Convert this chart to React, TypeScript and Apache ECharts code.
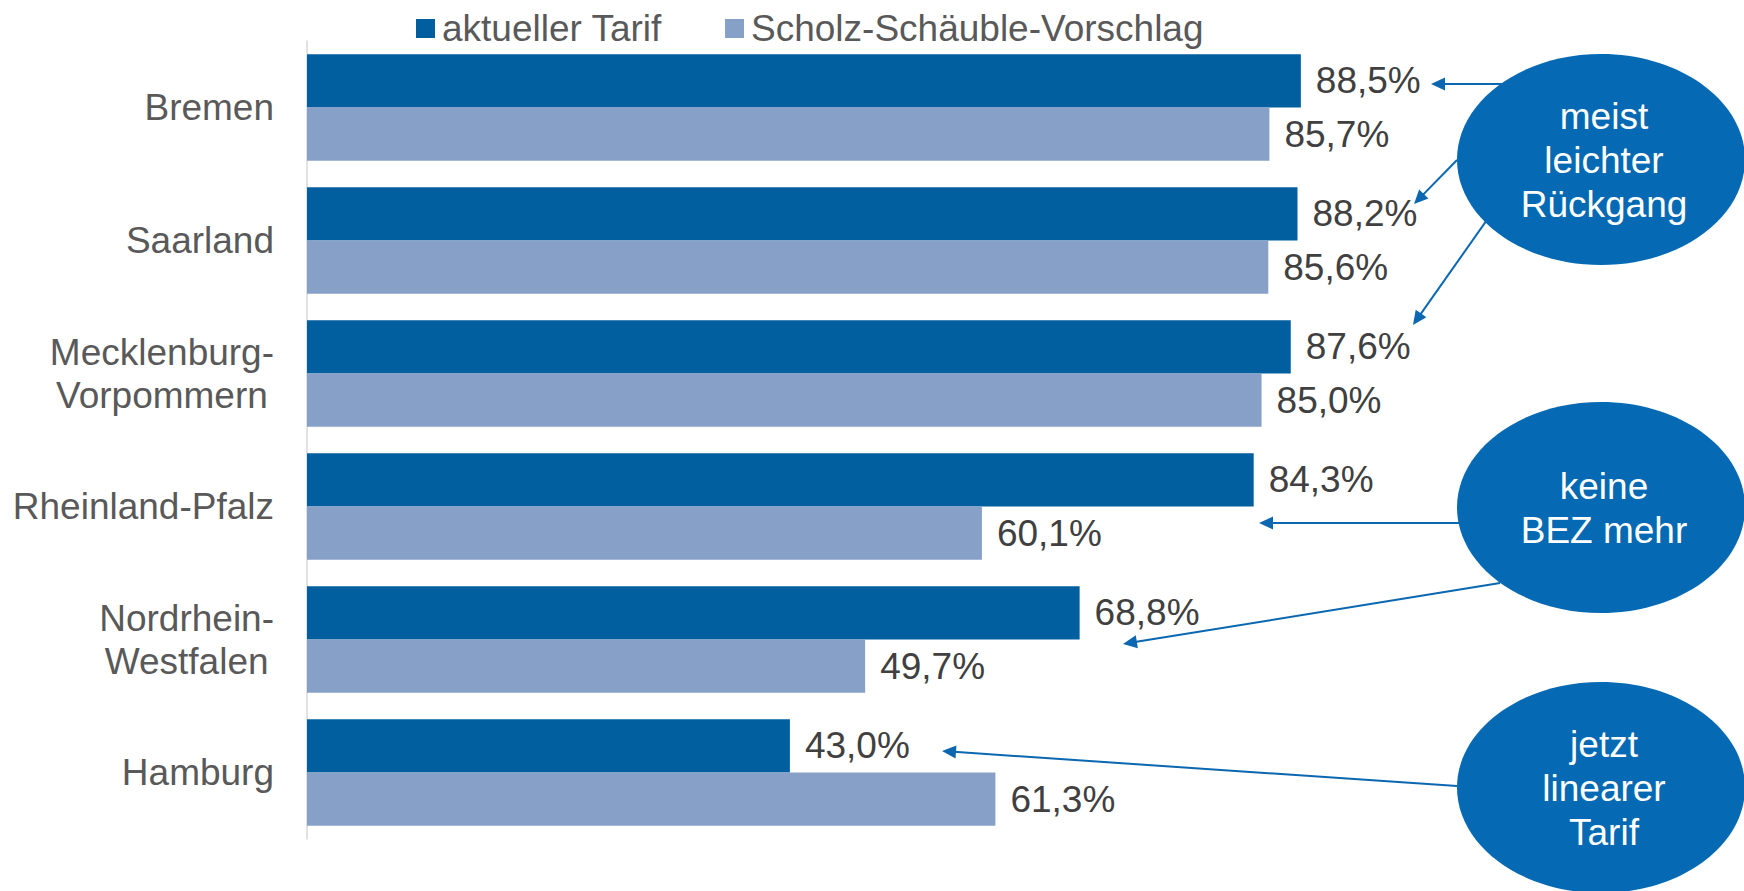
import React, { useEffect, useRef } from "react";
import * as echarts from "echarts";

const categories = [
  "Bremen",
  "Saarland",
  "Mecklenburg-\nVorpommern",
  "Rheinland-Pfalz",
  "Nordrhein-\nWestfalen",
  "Hamburg",
];
const seriesNames = ["aktueller Tarif", "Scholz-Schäuble-Vorschlag"];
const aktuellerTarif = [88.5, 88.2, 87.6, 84.3, 68.8, 43.0];
const scholzSchaeuble = [85.7, 85.6, 85.0, 60.1, 49.7, 61.3];
const noteTexts = [
  "meist\nleichter\nRückgang",
  "keine\nBEZ mehr",
  "jetzt\nlinearer\nTarif",
];

const FONT = "'Liberation Sans', Arial, sans-serif";
const DARK = "#015E9F";
const LIGHT = "#87A0C8";
const NOTE = "#056AB3";
const ARROW = "#0A67B0";

function arrow(x1: number, y1: number, x2: number, y2: number) {
  const dx = x2 - x1;
  const dy = y2 - y1;
  const len = Math.sqrt(dx * dx + dy * dy);
  const ux = dx / len;
  const uy = dy / len;
  const head = 14;
  const half = 6.5;
  const bx = x2 - ux * head;
  const by = y2 - uy * head;
  const px = -uy;
  const py = ux;
  return [
    {
      type: "line",
      shape: { x1, y1, x2: bx + ux * 2, y2: by + uy * 2 },
      style: { stroke: ARROW, lineWidth: 2 },
      silent: true,
    },
    {
      type: "polygon",
      shape: {
        points: [
          [x2, y2],
          [bx + px * half, by + py * half],
          [bx - px * half, by - py * half],
        ],
      },
      style: { fill: ARROW },
      silent: true,
    },
  ];
}

function note(cx: number, cy: number, text: string) {
  return [
    {
      type: "ellipse",
      shape: { cx, cy, rx: 144, ry: 105.5 },
      style: { fill: NOTE },
      silent: true,
    },
    {
      type: "text",
      x: cx + 3,
      y: cy + 1,
      style: {
        text,
        fill: "#ffffff",
        fontSize: 37,
        fontFamily: FONT,
        lineHeight: 44,
        align: "center",
        verticalAlign: "middle",
      },
      silent: true,
    },
  ];
}

export default function App() {
  const ref = useRef<HTMLDivElement>(null);

  useEffect(() => {
    if (!ref.current) return;
    const chart = echarts.init(ref.current, null, { renderer: "svg" });
    const fmt = (p: any) =>
      Number(p.value).toFixed(1).replace(".", ",") + "%";

    const graphics: any[] = [
      ...arrow(1502, 84, 1431, 84),
      ...arrow(1457, 160, 1414, 204),
      ...arrow(1527, 163, 1413, 325),
      ...arrow(1459, 523, 1259, 523),
      ...arrow(1500, 583, 1123, 644),
      ...arrow(1457, 786, 942, 751),
      ...note(1601, 159.5, noteTexts[0]),
      ...note(1601, 507.5, noteTexts[1]),
      ...note(1601, 787.5, noteTexts[2]),
    ];

    chart.setOption({
      animation: false,
      backgroundColor: "#ffffff",
      textStyle: { fontFamily: FONT },
      legend: {
        data: seriesNames,
        left: 411,
        top: 5,
        icon: "rect",
        itemWidth: 19,
        itemHeight: 19,
        itemGap: 63,
        textStyle: {
          fontSize: 37,
          color: "#595959",
          fontFamily: FONT,
          lineHeight: 37,
          padding: [0, 0, 0, 2],
        },
      },
      grid: { left: 307, top: 41, width: 1123, height: 798 },
      xAxis: {
        type: "value",
        min: 0,
        max: 100,
        show: false,
      },
      yAxis: {
        type: "category",
        inverse: true,
        data: categories,
        axisLine: { show: true, lineStyle: { color: "#d9d9d9", width: 1.5 } },
        axisTick: { show: false },
        splitLine: { show: false },
        axisLabel: {
          margin: 33,
          color: "#595959",
          fontSize: 37,
          fontFamily: FONT,
          lineHeight: 43,
          formatter: (v: string) =>
            v
              .split("\n")
              .map((s) => "{c|" + s + "}")
              .join("\n"),
          rich: {
            c: {
              align: "center",
              fontSize: 37,
              fontFamily: FONT,
              color: "#595959",
              lineHeight: 43,
            },
          },
        },
      },
      series: [
        {
          name: seriesNames[0],
          type: "bar",
          data: aktuellerTarif,
          barGap: "0%",
          barCategoryGap: "20%",
          itemStyle: { color: DARK },
          label: {
            show: true,
            position: "right",
            distance: 15,
            formatter: fmt,
            color: "#404040",
            fontSize: 37,
            fontFamily: FONT,
          },
        },
        {
          name: seriesNames[1],
          type: "bar",
          data: scholzSchaeuble,
          barGap: "0%",
          barCategoryGap: "20%",
          itemStyle: { color: LIGHT },
          label: {
            show: true,
            position: "right",
            distance: 15,
            formatter: fmt,
            color: "#404040",
            fontSize: 37,
            fontFamily: FONT,
          },
        },
      ],
      graphic: { elements: graphics },
    });

    return () => chart.dispose();
  }, []);

  return (
    <div
      ref={ref}
      style={{ position: "fixed", left: 0, top: 0, width: 1744, height: 891 }}
    />
  );
}
